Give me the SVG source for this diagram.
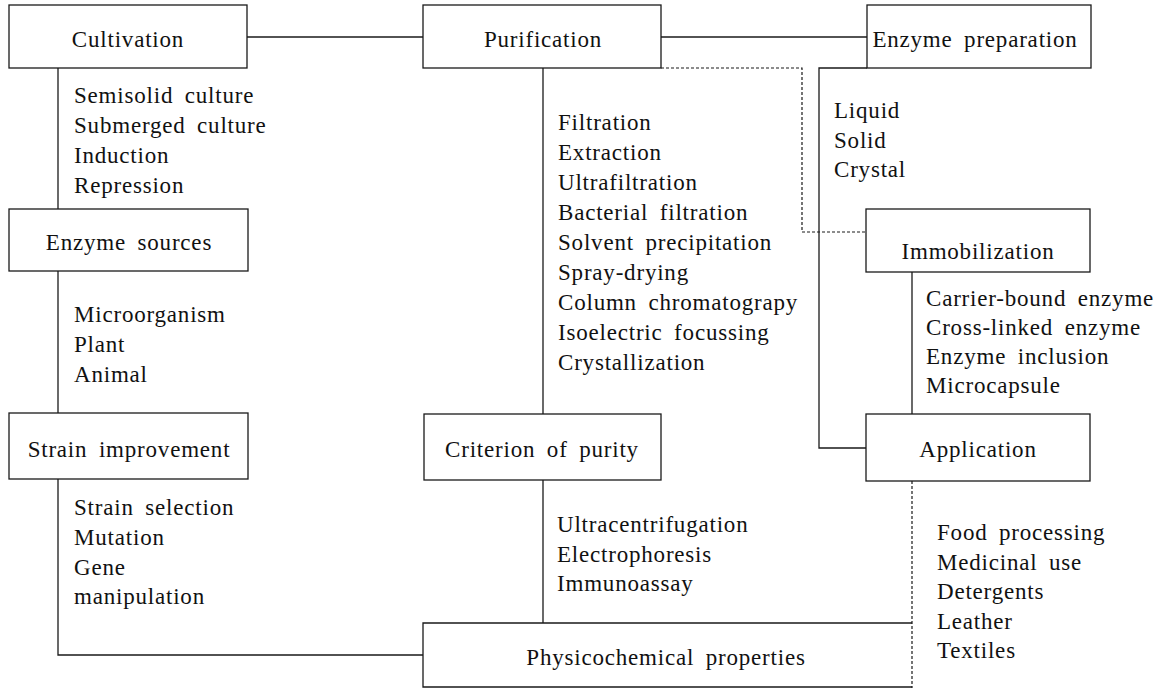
<svg xmlns="http://www.w3.org/2000/svg" width="1163" height="688" viewBox="0 0 1163 688">
<style>
.box{fill:#fff;stroke:#1a1a1a;stroke-width:1.3}
.conn{fill:none;stroke:#1a1a1a;stroke-width:1.3}
.dash{fill:none;stroke:#1a1a1a;stroke-width:1.2;stroke-dasharray:3 2}
text{font-family:"Liberation Serif","Times New Roman",serif;font-size:23px;letter-spacing:0.8px;word-spacing:5px;fill:#111}
.title{text-anchor:middle}
</style>
<rect width="1163" height="688" fill="#fff"/>
<g id="connectors">
<path class="conn" d="M247,37 H423"/>
<path class="conn" d="M661,37 H867"/>
<path class="conn" d="M58,68 V209"/>
<path class="conn" d="M58,271 V413"/>
<path class="conn" d="M58,479 V655 H423"/>
<path class="conn" d="M543,68 V414"/>
<path class="conn" d="M543,480 V623"/>
<path class="dash" d="M661,68 H802 V232 H866"/>
<path class="conn" d="M867,68 H819 V448 H866"/>
<path class="conn" d="M912,272 V414"/>
<path class="dash" d="M912,481 V688"/>
</g>
<g id="cultivation">
<rect class="box" x="9" y="5" width="238" height="63"/>
<text class="title" x="128" y="47">Cultivation</text>
<text x="74" y="103">Semisolid culture</text>
<text x="74" y="133">Submerged culture</text>
<text x="74" y="163">Induction</text>
<text x="74" y="193">Repression</text>
</g>
<g id="purification">
<rect class="box" x="423" y="5" width="238" height="63"/>
<text class="title" x="543" y="47">Purification</text>
<text x="558" y="130">Filtration</text>
<text x="558" y="160">Extraction</text>
<text x="558" y="190">Ultrafiltration</text>
<text x="558" y="220">Bacterial filtration</text>
<text x="558" y="250">Solvent precipitation</text>
<text x="558" y="280">Spray-drying</text>
<text x="558" y="310">Column chromatograpy</text>
<text x="558" y="340">Isoelectric focussing</text>
<text x="558" y="370">Crystallization</text>
</g>
<g id="enzyme-preparation">
<rect class="box" x="867" y="5" width="224" height="63"/>
<text class="title" x="975" y="47">Enzyme preparation</text>
<text x="834" y="118">Liquid</text>
<text x="834" y="148">Solid</text>
<text x="834" y="177">Crystal</text>
</g>
<g id="enzyme-sources">
<rect class="box" x="9" y="209" width="239" height="62"/>
<text class="title" x="129" y="250">Enzyme sources</text>
<text x="74" y="322">Microorganism</text>
<text x="74" y="352">Plant</text>
<text x="74" y="382">Animal</text>
</g>
<g id="immobilization">
<rect class="box" x="866" y="209" width="224" height="63"/>
<text class="title" x="978" y="259">Immobilization</text>
<text x="926" y="306">Carrier-bound enzyme</text>
<text x="926" y="335">Cross-linked enzyme</text>
<text x="926" y="364">Enzyme inclusion</text>
<text x="926" y="393">Microcapsule</text>
</g>
<g id="strain-improvement">
<rect class="box" x="9" y="413" width="239" height="66"/>
<text class="title" x="129" y="457">Strain improvement</text>
<text x="74" y="515">Strain selection</text>
<text x="74" y="545">Mutation</text>
<text x="74" y="575">Gene</text>
<text x="74" y="604">manipulation</text>
</g>
<g id="criterion-of-purity">
<rect class="box" x="424" y="414" width="237" height="66"/>
<text class="title" x="542" y="457">Criterion of purity</text>
<text x="557" y="532">Ultracentrifugation</text>
<text x="557" y="562">Electrophoresis</text>
<text x="557" y="591">Immunoassay</text>
</g>
<g id="application">
<rect class="box" x="866" y="414" width="224" height="67"/>
<text class="title" x="978" y="457">Application</text>
<text x="937" y="540">Food processing</text>
<text x="937" y="570">Medicinal use</text>
<text x="937" y="599">Detergents</text>
<text x="937" y="629">Leather</text>
<text x="937" y="658">Textiles</text>
</g>
<g id="physicochemical-properties">
<path class="conn" d="M912,623 H423 V687 H912"/>
<text class="title" x="666" y="665">Physicochemical properties</text>
</g>
</svg>
